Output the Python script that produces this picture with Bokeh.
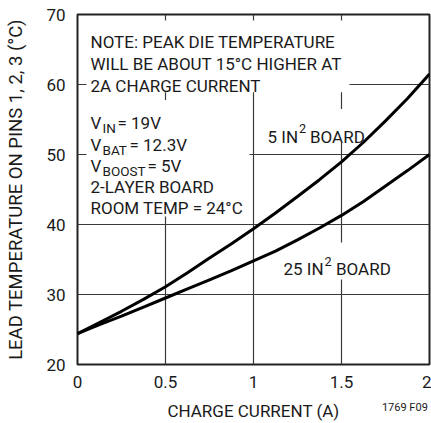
from bokeh.plotting import figure
from bokeh.models import Label, BoxAnnotation, FixedTicker, Range1d, LinearAxis
from bokeh.embed import file_html
from bokeh.resources import INLINE

# ---- data ----
current = [0, 0.125, 0.25, 0.375, 0.5, 0.625, 0.75, 0.875, 1.0,
           1.125, 1.25, 1.375, 1.5, 1.625, 1.75, 1.875, 2.0]
temp_5in = [24.4, 26.0, 27.6, 29.3, 31.1, 33.1, 35.2, 37.25, 39.4,
            41.65, 44.0, 46.4, 48.95, 51.75, 54.8, 58.0, 61.5]
temp_25in = [24.4, 25.7, 26.9, 28.2, 29.5, 30.8, 32.1, 33.4, 34.8,
             36.2, 37.8, 39.5, 41.3, 43.3, 45.5, 47.7, 50.0]
x_ticks = [0, 0.5, 1, 1.5, 2]
x_tick_labels = ["0", "0.5", "1", "1.5", "2"]
y_ticks = [20, 30, 40, 50, 60, 70]
note_lines = ["NOTE: PEAK DIE TEMPERATURE",
              "WILL BE ABOUT 15°C HIGHER AT",
              "2A CHARGE CURRENT"]
x_title = "CHARGE CURRENT (A)"
y_title = "LEAD TEMPERATURE ON PINS 1, 2, 3 (°C)"
fig_code = "1769 F09"
fig_code_x = 1.86

FONT = "Roboto"
INK = "#1a1a1a"
FS = "17px"
SUB = "13.5px"
SUP = "12.7px"

p = figure(width=431, height=423, output_backend="svg", toolbar_location=None,
           x_range=Range1d(0, 2), y_range=Range1d(20, 70),
           min_border_left=77, min_border_right=2, min_border_top=14,
           min_border_bottom=59)
p.background_fill_color = "white"
p.border_fill_color = "white"
p.outline_line_color = "#222222"
p.outline_line_width = 2

# second (outer) bottom axis: carries the x title and the figure code
xaxis2 = LinearAxis(ticker=FixedTicker(ticks=[fig_code_x]),
                    major_label_overrides={fig_code_x: fig_code})
p.add_layout(xaxis2, "below")


def style_axis(ax):
    ax.axis_line_color = None
    ax.major_tick_line_color = None
    ax.minor_tick_line_color = None
    ax.major_tick_in = 0
    ax.major_tick_out = 0
    ax.minor_tick_in = 0
    ax.minor_tick_out = 0
    ax.major_label_text_font = FONT
    ax.major_label_text_font_size = FS
    ax.major_label_text_color = INK
    ax.axis_label_text_font = FONT
    ax.axis_label_text_font_size = FS
    ax.axis_label_text_font_style = "normal"
    ax.axis_label_text_color = INK


for ax in (p.xaxis[0], p.yaxis[0], xaxis2):
    style_axis(ax)

p.xaxis[0].ticker = FixedTicker(ticks=x_ticks)
p.xaxis[0].major_label_overrides = {t: s for t, s in zip(x_ticks, x_tick_labels)}
p.xaxis[0].major_label_standoff = 11

xaxis2.axis_label = x_title
xaxis2.major_label_text_font_size = "11px"
xaxis2.major_label_standoff = 10
xaxis2.axis_label_standoff = -16

p.yaxis.ticker = FixedTicker(ticks=y_ticks)
p.yaxis.axis_label = y_title
p.yaxis.axis_label_text_font_size = "18.5px"
p.yaxis.major_label_standoff = 12
p.yaxis.axis_label_standoff = 16

p.xgrid.ticker = FixedTicker(ticks=x_ticks[1:-1])
p.ygrid.ticker = FixedTicker(ticks=y_ticks[1:-1])
p.grid.grid_line_color = "#3a3a3a"
p.grid.grid_line_width = 1.2
p.grid.level = "image"

# white boxes behind the annotation texts (they interrupt the grid)
for l, r, b, t in [(0.051, 1.545, 58.9, 69.15),
                   (0.051, 0.977, 41.13, 57.77),
                   (1.057, 1.653, 51.65, 56.49),
                   (1.148, 1.79, 32.16, 37.43)]:
    p.add_layout(BoxAnnotation(left=l, right=r, bottom=b, top=t,
                               fill_color="white", fill_alpha=1.0,
                               line_color=None, level="underlay"))

p.line(current, temp_5in, line_color="black", line_width=3)
p.line(current, temp_25in, line_color="black", line_width=3)


def lab(x, y, text, size=FS):
    p.add_layout(Label(x=x, y=y, text=text, text_font=FONT, text_font_size=size,
                       text_color=INK, text_align="left",
                       text_baseline="alphabetic"))


for yy, s in zip([66.06, 62.89, 59.76], note_lines):
    lab(0.0739, yy, s)

# V block
lab(0.0739, 54.45, "V")
lab(0.142, 53.74, "IN", size=SUB)
lab(0.2273, 54.45, "= 19V")
lab(0.0739, 51.37, "V")
lab(0.142, 50.66, "BAT", size=SUB)
lab(0.2955, 51.37, "= 12.3V")
lab(0.0739, 48.42, "V")
lab(0.142, 47.71, "BOOST", size=SUB)
lab(0.3977, 48.42, "= 5V")
lab(0.0739, 45.29, "2-LAYER BOARD")
lab(0.0739, 42.36, "ROOM TEMP = 24°C")

# curve labels with superscript
lab(1.0795, 52.55, "5 IN")
lab(1.2585, 53.74, "2", size=SUP)
lab(1.321, 52.55, "BOARD")
lab(1.1705, 33.58, "25 IN")
lab(1.4034, 34.77, "2", size=SUP)
lab(1.4688, 33.58, "BOARD")

open("out.html", "w").write(file_html(p, INLINE))
